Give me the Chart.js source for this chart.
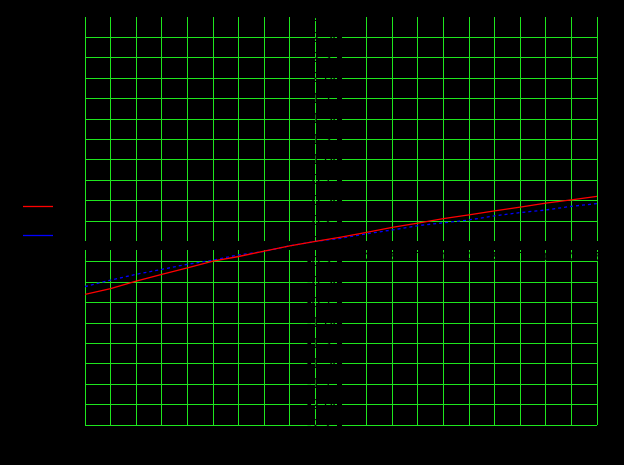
<!DOCTYPE html>
<html>
<head>
<meta charset="utf-8">
<script src="https://cdn.jsdelivr.net/npm/chart.js@4/dist/chart.umd.min.js"></script>
<style>
    html, body { margin: 0; padding: 0; background: #000; }
    .chart-container { position: relative; width: 624px; height: 465px; background: #000; }
</style>
</head>
<body>
<div class="chart-container">
    <canvas id="lineChart"></canvas>
</div>
<script>
// x values of the samples
const xValues = [-2.5, -2.25, -2, -1.75, -1.5, -1.25, -1, -0.75, -0.5, -0.25, 0,
    0.25, 0.5, 0.75, 1, 1.25, 1.5, 1.75, 2, 2.25, 2.5];

// series
const redValues = [-0.65, -0.578, -0.488, -0.405, -0.325, -0.243, -0.185, -0.12, -0.055, 0, 0.053,
    0.11, 0.173, 0.225, 0.278, 0.325, 0.373, 0.42, 0.468, 0.508, 0.553];
const blueValues = [-0.553, -0.475, -0.403, -0.343, -0.28, -0.23, -0.165, -0.123, -0.053, 0, 0.038,
    0.093, 0.14, 0.193, 0.228, 0.263, 0.313, 0.353, 0.385, 0.43, 0.463];

const seriesNames = ['f(x)', 'g(x)'];

// axis ranges / tick steps
const xRange = [-2.5, 2.5];
const yRange = [-2.25, 2.75];
const tickStep = 0.25;

const gridGreen = 'rgb(30, 230, 30)';

const toPoints = (ys) => xValues.map((x, i) => ({ x: x, y: ys[i] }));
const fmt = (v) => Number(v).toFixed(2);

const ctx = document.getElementById('lineChart').getContext('2d');
new Chart(ctx, {
    type: 'line',
    data: {
        datasets: [{
            label: seriesNames[0],
            data: toPoints(redValues),
            borderColor: '#ff0000',
            backgroundColor: '#ff0000',
            borderWidth: 1.3,
            pointRadius: 0,
            tension: 0
        }, {
            label: seriesNames[1],
            data: toPoints(blueValues),
            borderColor: '#0000ff',
            backgroundColor: '#0000ff',
            borderWidth: 1.3,
            borderDash: [3, 3],
            pointRadius: 0,
            tension: 0
        }]
    },
    options: {
        responsive: true,
        maintainAspectRatio: false,
        animation: false,
        layout: {
            padding: { left: 7, top: 17, right: 27, bottom: 40 }
        },
        plugins: {
            tooltip: { enabled: false },
            legend: {
                position: 'left',
                maxWidth: 78,
                labels: {
                    color: '#000',
                    font: { size: 13 },
                    padding: 16,
                    usePointStyle: true,
                    pointStyle: 'line',
                    pointStyleWidth: 30
                }
            }
        },
        scales: {
            x: {
                type: 'linear',
                min: xRange[0],
                max: xRange[1],
                position: { y: 0 },
                grid: { color: gridGreen, tickColor: '#000', tickLength: 8 },
                border: { color: '#000' },
                ticks: {
                    stepSize: tickStep,
                    callback: fmt,
                    color: '#000',
                    font: { size: 13 },
                    padding: 0,
                    autoSkip: false,
                    minRotation: 0,
                    maxRotation: 0
                }
            },
            y: {
                type: 'linear',
                min: yRange[0],
                max: yRange[1],
                position: { x: 0 },
                grid: {
                    color: (c) => (c.tick && c.tick.value >= yRange[1] - 0.01) ? 'rgba(0,0,0,0)' : gridGreen,
                    tickColor: '#000',
                    tickLength: 4
                },
                border: { color: '#000' },
                ticks: {
                    stepSize: tickStep,
                    callback: fmt,
                    color: '#000',
                    font: { size: 15 },
                    padding: 0,
                    autoSkip: false
                }
            }
        }
    }
});
</script>
</body>
</html>
